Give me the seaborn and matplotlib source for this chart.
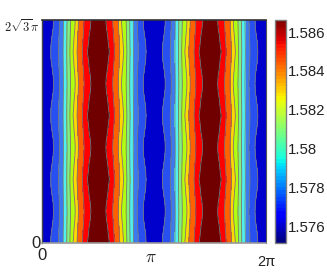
import numpy as np
import matplotlib
matplotlib.use("Agg")
import matplotlib.pyplot as plt
from matplotlib.colors import Normalize
from matplotlib.cm import ScalarMappable
import seaborn as sns

# contour levels of the field
levels = [1.5751, 1.5763, 1.5774, 1.5786, 1.5797, 1.5809, 1.5820, 1.5832, 1.5843, 1.5855, 1.5868]
band_colors = ["#0000CD", "#2850F0", "#3C78F0", "#50F0F0", "#80F080",
               "#B0FF10", "#FFD800", "#FF6000", "#FF0000", "#700000"]

# distance of each contour from the blue ridge, read at five phases of the wave
profile_wide = [0.23, 0.45, 0.58, 0.68, 0.77, 0.86, 0.97, 1.12, 1.26]
profile_wmid = [0.24, 0.455, 0.582, 0.683, 0.775, 0.875, 0.98, 1.13, 1.29]
profile_mid = [0.27, 0.465, 0.585, 0.685, 0.78, 0.89, 0.99, 1.145, 1.31]
profile_nmid = [0.30, 0.475, 0.588, 0.688, 0.785, 0.91, 1.005, 1.16, 1.345]
profile_narrow = [0.31, 0.48, 0.59, 0.69, 0.79, 0.92, 1.01, 1.17, 1.36]
phase_cycle = [profile_wide, profile_wmid, profile_mid, profile_nmid,
               profile_narrow, profile_nmid, profile_mid, profile_wmid]
n_rows = 29

cbar_ticks = [1.576, 1.578, 1.58, 1.582, 1.584, 1.586]
cbar_labels = ["1.576", "1.578", "1.58", "1.582", "1.584", "1.586"]

sns.set_style("white")
plt.rcParams["mathtext.fontset"] = "cm"
plt.rcParams["font.family"] = ["Liberation Sans", "DejaVu Sans"]

W, H = 327, 273
fig = plt.figure(figsize=(W / 100, H / 100), dpi=100)
ax = fig.add_axes([42.5 / W, 1 - 243 / H, 223.5 / W, 223 / H])
cax = fig.add_axes([274.5 / W, 1 - 242.5 / H, 11.5 / W, 222.5 / H])

xmax = 2 * np.pi
ymax = 2 * np.sqrt(3) * np.pi
ys = np.linspace(0, ymax, n_rows)
inner = levels[1:-1]

X, Y = [], []
for i, yv in enumerate(ys):
    d = phase_cycle[i % 8]
    half = [0.0] + d + [np.pi / 2]
    period = half + [np.pi - v for v in reversed(half[:-1])]
    row = period[:-1] + [np.pi + v for v in period]
    X.append(row)
    Y.append([yv] * len(row))
half_z = [levels[0]] + inner + [levels[-1]]
period_z = half_z + list(reversed(half_z[:-1]))
row_z = period_z[:-1] + period_z
Z = [row_z] * n_rows
X, Y, Z = np.array(X), np.array(Y), np.array(Z)

ax.contourf(X, Y, Z, levels=levels, colors=band_colors)
ax.contour(X, Y, Z, levels=inner, colors="#767676", linewidths=0.6)
ax.set_xlim(0, xmax)
ax.set_ylim(0, ymax)
ax.set_xticks([np.pi])
ax.set_xticklabels([])
ax.set_yticks([])
ax.tick_params(axis="x", direction="in", length=2, width=0.6, color="#555555")

for side, col, lw in [("top", "#333333", 1.2), ("left", "#444444", 1.0),
                      ("bottom", "#999999", 1.2), ("right", "#555555", 0.8)]:
    ax.spines[side].set_visible(True)
    ax.spines[side].set_color(col)
    ax.spines[side].set_linewidth(lw)

def px(dx, dy):
    return (dx * 0.72, -dy * 0.72)

ax.annotate(r"$2\sqrt{3}\pi$", xy=(0, 1), xycoords="axes fraction", xytext=px(-3.5, 7),
            textcoords="offset points", ha="right", va="center", fontsize=9, color="#222222")
ax.annotate("0", xy=(0, 0), xycoords="axes fraction", xytext=px(-6, 0),
            textcoords="offset points", ha="center", va="center", fontsize=12, color="#222222")
ax.annotate("0", xy=(0, 0), xycoords="axes fraction", xytext=px(0, 12),
            textcoords="offset points", ha="center", va="center", fontsize=12, color="#222222")
ax.annotate(r"$\pi$", xy=(np.pi, 0), xycoords=("data", "axes fraction"), xytext=px(-3, 14),
            textcoords="offset points", ha="center", va="center", fontsize=12.5, color="#222222")
ax.annotate("2π", xy=(xmax, 0), xycoords=("data", "axes fraction"), xytext=px(0, 18.5),
            textcoords="offset points", ha="center", va="center", fontsize=10.5, color="#222222")

jet = plt.get_cmap("jet", 64)
sm = ScalarMappable(norm=Normalize(1.57518, 1.58662), cmap=jet)
cb = fig.colorbar(sm, cax=cax)
cb.set_ticks(cbar_ticks)
cb.set_ticklabels(cbar_labels)
cb.ax.tick_params(length=0, pad=1.5, labelsize=10.8, labelcolor="#222222")
cb.outline.set_edgecolor("#808080")
cb.outline.set_linewidth(1.0)

fig.savefig("out.png", dpi=100)
